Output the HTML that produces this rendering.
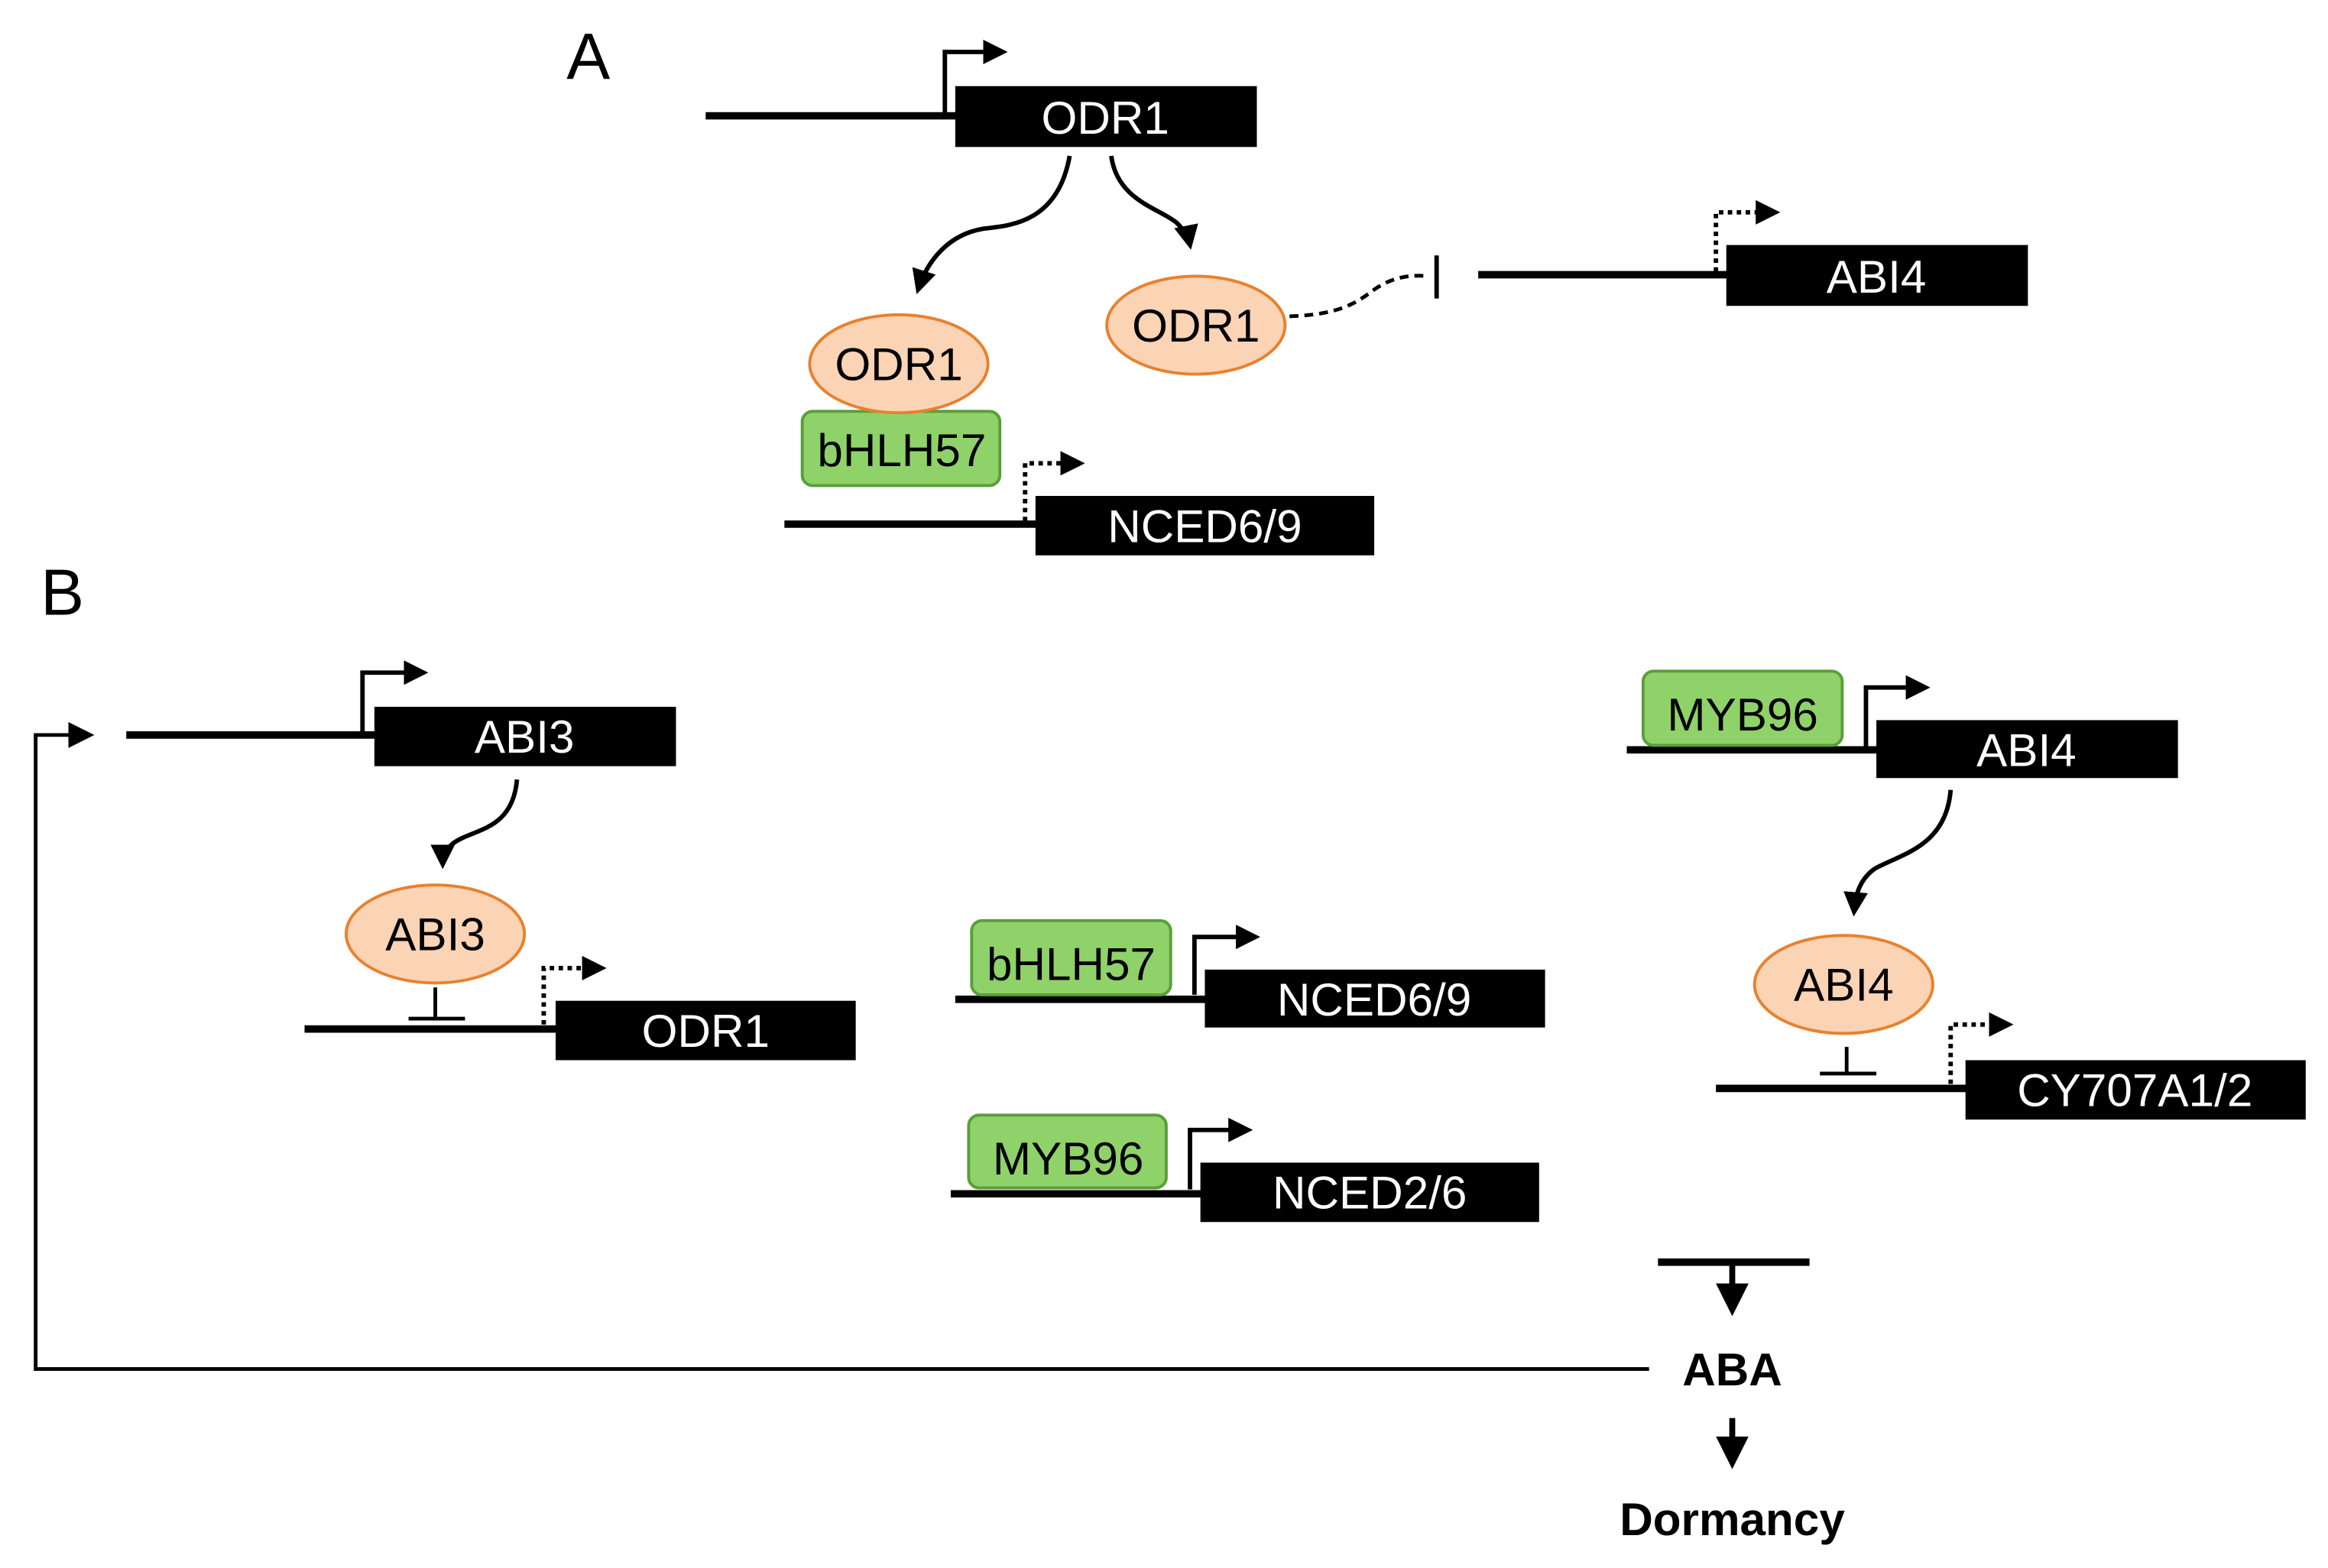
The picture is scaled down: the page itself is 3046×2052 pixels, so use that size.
<!DOCTYPE html>
<html><head><meta charset="utf-8"><style>
html,body{margin:0;padding:0;background:#fff;}
svg{display:block}
text{font-family:"Liberation Sans","DejaVu Sans",sans-serif;}
</style></head><body>
<svg width="3046" height="2052" viewBox="0 0 1567 1056" preserveAspectRatio="none" xmlns="http://www.w3.org/2000/svg">
<defs>
<marker id="ah" viewBox="0 0 10 10" refX="8" refY="5" markerWidth="5.5" markerHeight="5.5" orient="auto" markerUnits="strokeWidth"><path d="M0,0 L10,5 L0,10 z" fill="#000"/></marker>
<marker id="ah2" viewBox="0 0 10 10" refX="8" refY="5" markerWidth="7" markerHeight="7" orient="auto" markerUnits="strokeWidth"><path d="M0,0 L10,5 L0,10 z" fill="#000"/></marker>
</defs>
<g fill="none" stroke="#000">
<line x1="475" y1="78" x2="645" y2="78" stroke-width="5"/>
<path d="M636,76 V35 H675" stroke-width="3" marker-end="url(#ah)"/>
<path d="M720,105 C712,150 680,152 662,154 C638,158 624,176 618,195" stroke-width="3" marker-end="url(#ah)"/>
<path d="M748,105 C752,135 780,140 792,150 C798,156 800,160 801,165" stroke-width="3" marker-end="url(#ah)"/>
<path d="M868,213 C900,212 912,205 925,195 C938,186 950,185 962,186" stroke-width="2.5" stroke-dasharray="6,4"/>
<line x1="967" y1="172" x2="967" y2="201" stroke-width="3"/>
<line x1="995" y1="185" x2="1164" y2="185" stroke-width="5"/>
<path d="M1155,183 V143 H1195" stroke-width="3" stroke-dasharray="3,3" marker-end="url(#ah)"/>
<line x1="528" y1="353" x2="699" y2="353" stroke-width="5"/>
<path d="M690,351 V312 H727" stroke-width="3" stroke-dasharray="3,3" marker-end="url(#ah)"/>
<line x1="85" y1="495" x2="254" y2="495" stroke-width="5"/>
<path d="M244,493 V453 H285" stroke-width="3" marker-end="url(#ah)"/>
<path d="M1110,922 H24 V495 H60" stroke-width="2.5" marker-end="url(#ah2)"/>
<path d="M348,525 C345,560 318,558 305,568 C300,572 298,576 298,582" stroke-width="3" marker-end="url(#ah)"/>
<line x1="293" y1="665" x2="293" y2="685" stroke-width="2.5"/>
<line x1="275" y1="686" x2="313" y2="686" stroke-width="2.5"/>
<line x1="205" y1="693" x2="376" y2="693" stroke-width="5"/>
<path d="M366,690 V652 H405" stroke-width="3" stroke-dasharray="3,3" marker-end="url(#ah)"/>
<line x1="643" y1="673" x2="813" y2="673" stroke-width="5"/>
<path d="M804,670 V631 H845" stroke-width="3" marker-end="url(#ah)"/>
<line x1="640" y1="804" x2="810" y2="804" stroke-width="5"/>
<path d="M801,801 V761 H840" stroke-width="3" marker-end="url(#ah)"/>
<line x1="1095" y1="505" x2="1265" y2="505" stroke-width="5"/>
<path d="M1256,503 V463 H1296" stroke-width="3" marker-end="url(#ah)"/>
<path d="M1313,532 C1310,570 1280,575 1262,585 C1252,592 1249,602 1248,614" stroke-width="3" marker-end="url(#ah)"/>
<line x1="1243" y1="705" x2="1243" y2="722" stroke-width="2.5"/>
<line x1="1225" y1="723" x2="1263" y2="723" stroke-width="2.5"/>
<line x1="1155" y1="733" x2="1325" y2="733" stroke-width="5"/>
<path d="M1313,730 V690 H1352" stroke-width="3" stroke-dasharray="3,3" marker-end="url(#ah)"/>
<line x1="1116" y1="850" x2="1218" y2="850" stroke-width="5"/>
<path d="M1166,850 V882" stroke-width="4" marker-end="url(#ah)"/>
<path d="M1166,955 V985" stroke-width="4" marker-end="url(#ah)"/>
</g>
<g fill="#000">
<rect x="643" y="58" width="203" height="41"/>
<rect x="1162" y="165" width="203" height="41"/>
<rect x="697" y="334" width="228" height="40"/>
<rect x="252" y="476" width="203" height="40"/>
<rect x="374" y="674" width="202" height="40"/>
<rect x="811" y="653" width="229" height="39"/>
<rect x="808" y="783" width="228" height="40"/>
<rect x="1263" y="485" width="203" height="39"/>
<rect x="1323" y="714" width="229" height="40"/>
</g>
<g fill="#8fd26a" stroke="#5a9e3a" stroke-width="2">
<rect x="540" y="277" width="133" height="50" rx="7"/>
<rect x="654" y="620" width="134" height="50" rx="7"/>
<rect x="652" y="751" width="133" height="49" rx="7"/>
<rect x="1106" y="452" width="134" height="50" rx="7"/>
</g>
<g fill="#fbd3b5" stroke="#e8812e" stroke-width="2">
<ellipse cx="805" cy="219" rx="60" ry="33"/>
<ellipse cx="605" cy="245" rx="60" ry="33"/>
<ellipse cx="293" cy="629" rx="60" ry="33"/>
<ellipse cx="1241" cy="663" rx="60" ry="33"/>
</g>
<g font-size="31" text-anchor="middle">
<text x="396" y="53" font-size="44" text-anchor="middle">A</text>
<text x="42" y="414" font-size="44">B</text>
<g fill="#fff">
<text x="744" y="90">ODR1</text>
<text x="1263" y="197">ABI4</text>
<text x="811" y="365">NCED6/9</text>
<text x="353" y="507">ABI3</text>
<text x="475" y="705">ODR1</text>
<text x="925" y="684">NCED6/9</text>
<text x="922" y="814">NCED2/6</text>
<text x="1364" y="516">ABI4</text>
<text x="1437" y="745">CY707A1/2</text>
</g>
<text x="805" y="230">ODR1</text>
<text x="605" y="256">ODR1</text>
<text x="607" y="314">bHLH57</text>
<text x="293" y="640">ABI3</text>
<text x="1241" y="674">ABI4</text>
<text x="721" y="660">bHLH57</text>
<text x="719" y="791">MYB96</text>
<text x="1173" y="492">MYB96</text>
<text x="1166" y="933" font-weight="bold">ABA</text>
<text x="1166" y="1034" font-weight="bold">Dormancy</text>
</g>
</svg>
</body></html>
